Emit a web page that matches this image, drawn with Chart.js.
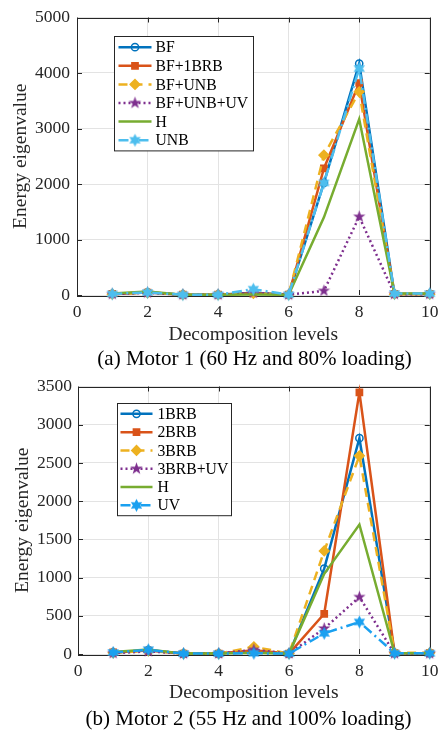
<!DOCTYPE html>
<html>
<head>
<meta charset="utf-8">
<script src="https://cdn.jsdelivr.net/npm/chart.js@4.4.1/dist/chart.umd.min.js"></script>
<style>
  body { margin: 0; background: #fff; }
  .panel { position: absolute; left: 0; width: 445px; }
  #p1 { top: 0; height: 370px; }
  #p2 { top: 370px; height: 360px; }
</style>
</head>
<body>
<div class="panel" id="p1"><canvas id="motor1"></canvas></div>
<div class="panel" id="p2"><canvas id="motor2"></canvas></div>
<script>
const levels = [1, 2, 3, 4, 5, 6, 7, 8, 9, 10];
const xTicks = [0, 2, 4, 6, 8, 10];

// Motor 1 (60 Hz, 80% loading)
const m1Labels = ['BF', 'BF+1BRB', 'BF+UNB', 'BF+UNB+UV', 'H', 'UNB'];
const m1BF      = [20, 50, 5, 5, 40, 5, 2020, 4170, 20, 20];
const m1BF1BRB  = [20, 45, 5, 5, 30, 5, 2280, 3820, 20, 20];
const m1BFUNB   = [15, 40, 5, 5, 30, 5, 2520, 3660, 15, 15];
const m1BFUNBUV = [15, 40, 5, 5, 40, 5, 75, 1410, 15, 15];
const m1H       = [25, 65, 5, 5, 10, 5, 1400, 3170, 25, 25];
const m1UNB     = [20, 45, 5, 5, 105, 5, 2020, 4080, 25, 25];
const m1YTicks  = [0, 1000, 2000, 3000, 4000, 5000];

// Motor 2 (55 Hz, 100% loading)
const m2Labels = ['1BRB', '2BRB', '3BRB', '3BRB+UV', 'H', 'UV'];
const m2BRB1   = [20, 50, 5, 5, 40, 5, 1117, 2824, 10, 10];
const m2BRB2   = [20, 45, 5, 5, 50, 5, 526, 3423, 10, 10];
const m2BRB3   = [15, 40, 5, 5, 95, 5, 1348, 2593, 15, 15];
const m2BRB3UV = [10, 35, 5, 5, 55, 5, 334, 745, 5, 5];
const m2H      = [25, 60, 5, 5, 15, 5, 1050, 1694, 10, 10];
const m2UV     = [20, 55, 5, 5, 10, 5, 270, 419, 10, 10];
const m2YTicks = [0, 500, 1000, 1500, 2000, 2500, 3000, 3500];

const SERIF = '"Liberation Serif", "Times New Roman", serif';
const INK = '#262626';

// filled n-point star drawn into a small canvas, used as a point style
function starMarker(color, spikes, outer, inner) {
  const size = Math.ceil(outer * 2 + 2);
  const c = document.createElement('canvas');
  c.width = c.height = size;
  const g = c.getContext('2d');
  const cx = size / 2, cy = size / 2;
  g.beginPath();
  for (let i = 0; i < spikes * 2; i++) {
    const r = i % 2 ? inner : outer;
    const a = -Math.PI / 2 + i * Math.PI / spikes;
    g.lineTo(cx + r * Math.cos(a), cy + r * Math.sin(a));
  }
  g.closePath();
  g.fillStyle = color;
  g.fill();
  return c;
}

function styleSet(lastColor) {
  return [
    { color: '#0072BD', dash: [], point: 'circle', r: 3.6, hollow: true },
    { color: '#D95319', dash: [], point: 'rect', r: 4.4 },
    { color: '#EDB120', dash: [9, 6], point: 'rectRot', r: 4.8 },
    { color: '#7E2F8E', dash: [2, 3], point: starMarker('#7E2F8E', 5, 6.5, 2.6) },
    { color: '#77AC30', dash: [], point: null },
    { color: lastColor, dash: [10, 4, 2, 4], point: starMarker(lastColor, 6, 6.5, 3.6) }
  ];
}

function makeDatasets(labels, series, styles) {
  return series.map((vals, i) => {
    const st = styles[i];
    return {
      label: labels[i],
      data: levels.map((lv, k) => ({ x: lv, y: vals[k] })),
      borderColor: st.color,
      backgroundColor: st.color,
      borderWidth: 2.5,
      borderDash: st.dash,
      pointStyle: st.point || false,
      pointRadius: st.point ? (st.r || 6) : 0,
      pointBorderColor: st.color,
      pointBackgroundColor: st.hollow ? 'rgba(0,0,0,0)' : st.color,
      pointBorderWidth: 1.5,
      tension: 0,
      clip: false,
      order: series.length - i
    };
  });
}

// box around the plot area with inward ticks on all four sides
const axisFrame = {
  id: 'axisFrame',
  beforeDatasetsDraw(chart) {
    const { ctx, chartArea: a, scales: { x, y } } = chart;
    ctx.save();
    ctx.strokeStyle = INK;
    ctx.lineWidth = 1;
    ctx.strokeRect(Math.round(a.left) + 0.5, Math.round(a.top) + 0.5,
      Math.round(a.right - a.left), Math.round(a.bottom - a.top));
    ctx.beginPath();
    x.ticks.forEach(t => {
      const px = Math.round(x.getPixelForValue(t.value)) + 0.5;
      ctx.moveTo(px, a.bottom); ctx.lineTo(px, a.bottom - 5);
      ctx.moveTo(px, a.top); ctx.lineTo(px, a.top + 5);
    });
    y.ticks.forEach(t => {
      const py = Math.round(y.getPixelForValue(t.value)) + 0.5;
      ctx.moveTo(a.left, py); ctx.lineTo(a.left + 5, py);
      ctx.moveTo(a.right, py); ctx.lineTo(a.right - 5, py);
    });
    ctx.stroke();
    ctx.restore();
  }
};

// legend drawn inside the plot area
const boxLegend = {
  id: 'boxLegend',
  afterDraw(chart, args, o) {
    const { ctx, chartArea } = chart;
    const sets = chart.data.datasets;
    const x0 = Math.round(chartArea.left + o.dx) + 0.5;
    const y0 = Math.round(chartArea.top + o.dy) + 0.5;
    const h = o.rowH * sets.length + o.padY * 2;
    ctx.save();
    ctx.fillStyle = '#fff';
    ctx.fillRect(x0, y0, o.width, h);
    ctx.strokeStyle = INK;
    ctx.lineWidth = 1;
    ctx.strokeRect(x0, y0, o.width, h);
    ctx.font = '15.7px ' + SERIF;
    ctx.textBaseline = 'middle';
    sets.forEach((ds, i) => {
      const y = y0 + o.padY + o.rowH * (i + 0.5);
      ctx.strokeStyle = ds.borderColor;
      ctx.lineWidth = ds.borderWidth;
      ctx.setLineDash(ds.borderDash);
      ctx.beginPath();
      ctx.moveTo(x0 + o.lineFrom, y);
      ctx.lineTo(x0 + o.lineTo, y);
      ctx.stroke();
      ctx.setLineDash([]);
      if (ds.pointStyle) {
        ctx.fillStyle = ds.pointBackgroundColor;
        ctx.strokeStyle = ds.pointBorderColor;
        ctx.lineWidth = ds.pointBorderWidth;
        Chart.helpers.drawPoint(ctx, {
          pointStyle: ds.pointStyle, radius: ds.pointRadius,
          rotation: 0, borderWidth: ds.pointBorderWidth
        }, x0 + (o.lineFrom + o.lineTo) / 2, y);
      }
      ctx.fillStyle = '#000';
      ctx.fillText(ds.label, x0 + o.textX, y + 1);
    });
    ctx.restore();
  }
};

// sub-figure caption under the axis title
const caption = {
  id: 'caption',
  afterDraw(chart, args, o) {
    const { ctx } = chart;
    ctx.save();
    ctx.font = '21px ' + SERIF;
    ctx.fillStyle = '#000';
    ctx.textAlign = 'center';
    ctx.textBaseline = 'middle';
    ctx.fillText(o.text, o.x, o.y);
    ctx.restore();
  }
};

function buildChart(id, labels, series, yTicks, lastColor, captionText, L) {
  new Chart(document.getElementById(id), {
    type: 'line',
    data: { datasets: makeDatasets(labels, series, styleSet(lastColor)) },
    options: {
      responsive: true,
      maintainAspectRatio: false,
      animation: false,
      layout: { padding: { top: L.top, right: L.right, bottom: L.bottom, left: 0 } },
      scales: {
        x: {
          type: 'linear',
          min: xTicks[0], max: xTicks[xTicks.length - 1],
          afterBuildTicks: s => { s.ticks = xTicks.map(v => ({ value: v })); },
          afterFit: s => { s.height = L.xHeight; },
          grid: { color: '#e3e3e3', drawTicks: false },
          border: { display: false },
          ticks: {
            color: INK, padding: L.xTickPad, font: { family: SERIF, size: 17.5 },
            callback: v => String(v)
          },
          title: {
            display: true, text: 'Decomposition levels', color: INK,
            font: { family: SERIF, size: 19.5 }, padding: { top: 0, bottom: L.xTitlePad }
          }
        },
        y: {
          min: yTicks[0], max: yTicks[yTicks.length - 1],
          afterBuildTicks: s => { s.ticks = yTicks.map(v => ({ value: v })); },
          afterFit: s => { s.width = L.yWidth; },
          grid: { color: '#e3e3e3', drawTicks: false },
          border: { display: false },
          ticks: {
            color: INK, padding: L.yTickPad, font: { family: SERIF, size: 17.5 },
            callback: v => String(v)
          },
          title: {
            display: true, text: 'Energy eigenvalue', color: INK,
            font: { family: SERIF, size: 19.5 }, padding: { top: L.yTitlePad, bottom: 0 }
          }
        }
      },
      plugins: {
        legend: { display: false },
        tooltip: { enabled: false },
        boxLegend: L.legend,
        caption: { text: captionText, x: L.capX, y: L.capY }
      }
    },
    plugins: [axisFrame, boxLegend, caption]
  });
}

buildChart('motor1', m1Labels, [m1BF, m1BF1BRB, m1BFUNB, m1BFUNBUV, m1H, m1UNB],
  m1YTicks, '#4DBEEE', '(a) Motor 1 (60 Hz and 80% loading)', {
    top: 17, right: 9, bottom: 21, xHeight: 54, xTickPad: 6.5, xTitlePad: 2.3,
    yWidth: 77, yTickPad: 7, yTitlePad: 9.3, capX: 254.5, capY: 359.5,
    legend: { dx: 37, dy: 18, width: 139, rowH: 18.6, padY: 1.4, lineFrom: 4, lineTo: 37, textX: 41 }
  });

buildChart('motor2', m2Labels, [m2BRB1, m2BRB2, m2BRB3, m2BRB3UV, m2H, m2UV],
  m2YTicks, '#1AA0F0', '(b) Motor 2 (55 Hz and 100% loading)', {
    top: 12, right: 13, bottom: 21.5, xHeight: 54.5, xTickPad: 6.5, xTitlePad: 3.8,
    yWidth: 78, yTickPad: 6, yTitlePad: 11.3, capX: 248.5, capY: 349,
    legend: { dx: 39, dy: 16, width: 114, rowH: 18.3, padY: 1.2, lineFrom: 3, lineTo: 35, textX: 40 }
  });
</script>
</body>
</html>
